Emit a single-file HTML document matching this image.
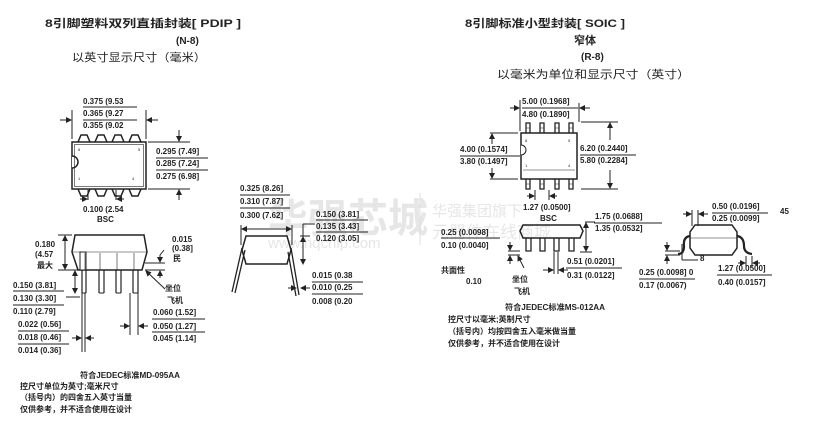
<!DOCTYPE html>
<html><head><meta charset="utf-8"><style>
html,body{margin:0;padding:0;background:#fff;}
svg{display:block}
text{font-family:"Liberation Sans","Noto Sans CJK SC",sans-serif;fill:#222;}
.d{font-size:8px;font-weight:bold;}
.c{font-size:8px;font-weight:bold;}
.t{font-size:11px;font-weight:bold;}
.w{fill:#e6e6e6;font-weight:bold;}
line,path,rect,polyline,polygon{stroke:#222;fill:none;}
</style></head><body>
<svg width="819" height="442" viewBox="0 0 819 442" xmlns="http://www.w3.org/2000/svg">
<defs>
<marker id="a" markerWidth="6" markerHeight="6" refX="5" refY="3" orient="auto"><path d="M0,0 L6,3 L0,6 z" style="fill:#222;stroke:none"/></marker>
</defs>
<!-- watermark -->
<text x="268" y="232" class="w" style="font-size:40px">华强芯城</text>
<text x="268" y="248" class="w" style="font-size:15px;font-weight:normal">www.hqchip.com</text>
<line x1="420" y1="193" x2="420" y2="245" style="stroke:#ddd"/>
<text x="432" y="216" class="w" style="font-size:15px;font-weight:normal">华强集团旗下</text>
<text x="432" y="238" class="w" style="font-size:17px;font-weight:normal">元器件在线商城</text>

<!-- titles -->
<text x="45" y="27" class="t" textLength="196" lengthAdjust="spacingAndGlyphs">8引脚塑料双列直插封装[ PDIP ]</text>
<text x="176" y="44" class="t" style="font-size:10px">(N-8)</text>
<text x="72" y="61" style="font-size:11px" textLength="134" lengthAdjust="spacingAndGlyphs">以英寸显示尺寸（毫米）</text>
<text x="465" y="27" class="t" textLength="160" lengthAdjust="spacingAndGlyphs">8引脚标准小型封装[ SOIC ]</text>
<text x="574" y="44" class="t">窄体</text>
<text x="581" y="60" class="t" style="font-size:10px">(R-8)</text>
<text x="497" y="78" style="font-size:11px" textLength="193" lengthAdjust="spacingAndGlyphs">以毫米为单位和显示尺寸（英寸）</text>

<!-- PDIP top view -->
<g style="stroke-width:1.5">
<rect x="72" y="142" width="74" height="47"/>
<path d="M72,156 a6,6 0 0 1 0,12" style="fill:#fff"/>
<path d="M78,142 l3,-7 h6 l3,7 M95,142 l3,-7 h6 l3,7 M112,142 l3,-7 h6 l3,7 M129,142 l3,-7 h6 l3,7"/>
<path d="M78,189 l3,7 h6 l3,-7 M95,189 l3,7 h6 l3,-7 M112,189 l3,7 h6 l3,-7 M129,189 l3,7 h6 l3,-7"/>
</g>
<rect x="74.5" y="144.5" width="69" height="42" style="stroke-width:0.6"/>
<text x="78" y="151" style="font-size:4px">8</text><text x="138" y="151" style="font-size:4px">5</text>
<text x="78" y="180" style="font-size:4px">1</text><text x="132" y="180" style="font-size:4px">4</text>
<line x1="72" y1="110" x2="72" y2="139"/><line x1="146" y1="110" x2="146" y2="139"/>
<line x1="60" y1="120" x2="71" y2="120" marker-end="url(#a)"/><line x1="158" y1="120" x2="147" y2="120" marker-end="url(#a)"/>
<text x="83" y="104" class="d">0.375 (9.53</text><line x1="83" y1="107" x2="137" y2="107"/>
<text x="83" y="116" class="d">0.365 (9.27</text><line x1="83" y1="120" x2="137" y2="120"/>
<text x="83" y="128" class="d">0.355 (9.02</text>
<line x1="148" y1="142" x2="190" y2="142"/><line x1="148" y1="189" x2="190" y2="189"/>
<line x1="179" y1="130" x2="179" y2="141" marker-end="url(#a)"/><line x1="179" y1="200" x2="179" y2="190" marker-end="url(#a)"/>
<text x="156" y="154" class="d">0.295 (7.49]</text><line x1="156" y1="158" x2="208" y2="158"/>
<text x="156" y="166" class="d">0.285 (7.24]</text><line x1="156" y1="170" x2="208" y2="170"/>
<text x="156" y="179" class="d">0.275 (6.98]</text>
<line x1="88" y1="200" x2="88" y2="190"/><line x1="116" y1="200" x2="116" y2="190"/>
<line x1="80" y1="199" x2="87" y2="199" marker-end="url(#a)"/><line x1="124" y1="199" x2="117" y2="199" marker-end="url(#a)"/>
<text x="83" y="212" class="d">0.100 (2.54</text>
<text x="97" y="222" class="d">BSC</text>

<!-- PDIP side view -->
<path d="M75,235 H144 L147,252 L142,270 H78 L72,252 Z" style="stroke-width:1.5"/>
<line x1="73" y1="252" x2="146" y2="252" style="stroke-width:0.6"/>
<g style="fill:#222;stroke:none">
<rect x="80" y="252" width="6" height="18" style="fill:#fff;stroke:#222"/>
</g>
<path d="M82,270 v23 M86,270 v23 M99,270 v23 M104,270 v23 M116,270 v23 M121,270 v23 M133,270 v23 M138,270 v23" style="stroke-width:1.2"/>
<path d="M82,293 h4 M99,293 h5 M116,293 h5 M133,293 h5"/>
<path d="M85,253 v17 M100,253 v17 M117,253 v17 M134,253 v17" style="stroke-width:0.6"/>
<line x1="82" y1="293" x2="82" y2="352"/><line x1="85" y1="293" x2="85" y2="352"/>
<line x1="130" y1="293" x2="130" y2="335"/><line x1="138" y1="293" x2="138" y2="335"/>
<line x1="58" y1="235" x2="72" y2="235"/><line x1="58" y1="270" x2="78" y2="270"/>
<line x1="65" y1="258" x2="65" y2="236" marker-end="url(#a)"/><line x1="65" y1="247" x2="65" y2="269" marker-end="url(#a)"/>
<text x="35" y="247" class="d">0.180</text><text x="35" y="257" class="d">(4.57</text><text x="37" y="268" class="c">最大</text>
<text x="172" y="242" class="d">0.015</text><text x="172" y="251" class="d">(0.38]</text><text x="173" y="261" class="c">民</text>
<line x1="145" y1="263" x2="165" y2="263"/><line x1="145" y1="270" x2="165" y2="270"/>
<line x1="160" y1="255" x2="160" y2="262" marker-end="url(#a)"/><line x1="160" y1="278" x2="160" y2="271" marker-end="url(#a)"/>
<line x1="160" y1="255" x2="164" y2="250"/>
<line x1="75" y1="272" x2="75" y2="292"/><line x1="75" y1="282" x2="75" y2="271" marker-end="url(#a)"/><line x1="75" y1="282" x2="75" y2="293" marker-end="url(#a)"/>
<text x="13" y="288" class="d">0.150 (3.81]</text><line x1="13" y1="291" x2="64" y2="291"/>
<text x="13" y="301" class="d">0.130 (3.30]</text><line x1="13" y1="305" x2="64" y2="305"/><line x1="66" y1="297" x2="80" y2="297"/>
<text x="13" y="314" class="d">0.110 (2.79]</text>
<text x="18" y="327" class="d">0.022 (0.56]</text><line x1="18" y1="331" x2="69" y2="331"/>
<text x="18" y="340" class="d">0.018 (0.46]</text><line x1="18" y1="344" x2="69" y2="344"/>
<text x="18" y="353" class="d">0.014 (0.36]</text>
<line x1="72" y1="338" x2="81" y2="338" marker-end="url(#a)"/><line x1="94" y1="338" x2="86" y2="338" marker-end="url(#a)"/>
<line x1="165" y1="289" x2="146" y2="271" marker-end="url(#a)"/>
<text x="165" y="291" class="c">坐位</text><text x="167" y="303" class="c">飞机</text>
<line x1="120" y1="326" x2="129" y2="326" marker-end="url(#a)"/><line x1="148" y1="326" x2="139" y2="326" marker-end="url(#a)"/>
<text x="153" y="315" class="d">0.060 (1.52]</text><line x1="152" y1="319" x2="205" y2="319"/>
<text x="153" y="329" class="d">0.050 (1.27]</text><line x1="152" y1="332" x2="205" y2="332"/>
<text x="153" y="341" class="d">0.045 (1.14]</text>
<text x="80" y="378" class="c" textLength="100" lengthAdjust="spacingAndGlyphs">符合JEDEC标准MD-095AA</text>
<text x="20" y="389" class="c">控尺寸单位为英寸;毫米尺寸</text>
<text x="20" y="400" class="c">（括号内）的四舍五入英寸当量</text>
<text x="20" y="412" class="c">仅供参考，并不适合使用在设计</text>

<!-- PDIP end view -->
<path d="M246,236 H287 L291,250 L287,264 H246 L242,250 Z" style="stroke-width:1.5"/>
<path d="M242,248 L232,292 M245,250 L235,293 M291,248 L299,295 M288,252 L296,296" style="stroke-width:1.3"/>
<line x1="241" y1="225" x2="241" y2="245"/><line x1="292" y1="225" x2="292" y2="245"/>
<line x1="266" y1="229" x2="242" y2="229" marker-end="url(#a)"/><line x1="266" y1="229" x2="291" y2="229" marker-end="url(#a)"/>
<text x="240" y="191" class="d">0.325 (8.26]</text><line x1="240" y1="195" x2="290" y2="195"/>
<text x="240" y="204" class="d">0.310 (7.87]</text><line x1="240" y1="208" x2="290" y2="208"/>
<text x="240" y="218" class="d">0.300 (7.62]</text>
<line x1="300" y1="236" x2="310" y2="236"/><line x1="303" y1="224" x2="315" y2="224"/><line x1="303" y1="224" x2="303" y2="264"/>
<line x1="303" y1="250" x2="303" y2="237" marker-end="url(#a)"/><line x1="303" y1="250" x2="303" y2="264" marker-end="url(#a)"/>
<text x="316" y="217" class="d">0.150 (3.81]</text><line x1="316" y1="220" x2="368" y2="220"/>
<text x="316" y="229" class="d">0.135 (3.43]</text><line x1="316" y1="232" x2="368" y2="232"/>
<text x="316" y="241" class="d">0.120 (3.05]</text>
<line x1="288" y1="288" x2="296" y2="288" marker-end="url(#a)"/><line x1="310" y1="288" x2="301" y2="288" marker-end="url(#a)"/>
<text x="312" y="278" class="d">0.015 (0.38</text><line x1="312" y1="282" x2="363" y2="282"/>
<text x="312" y="290" class="d">0.010 (0.25</text><line x1="312" y1="294" x2="363" y2="294"/>
<text x="312" y="304" class="d">0.008 (0.20</text>

<!-- SOIC top view -->
<rect x="521" y="133" width="56" height="46" style="stroke-width:1.5"/>
<path d="M521,145 a5,5 0 0 1 0,10" style="fill:#fff"/>
<line x1="523" y1="170" x2="575" y2="170" style="stroke-width:0.6"/>
<text x="525" y="142" style="font-size:4px">8</text><text x="568" y="142" style="font-size:4px">5</text>
<text x="525" y="167" style="font-size:4px">1</text><text x="568" y="167" style="font-size:4px">4</text>
<path d="M526,133 v-10 h4 v10 M540,133 v-10 h4 v10 M555,133 v-10 h4 v10 M569,133 v-10 h4 v10" style="stroke-width:1.3"/>
<path d="M526,179 v10 h4 v-10 M540,179 v10 h4 v-10 M555,179 v10 h4 v-10 M569,179 v10 h4 v-10" style="stroke-width:1.3"/>
<path d="M526,128 h4 M540,128 h4 M555,128 h4 M569,128 h4 M526,184 h4 M540,184 h4 M555,184 h4 M569,184 h4" style="stroke-width:0.6"/>
<line x1="520" y1="100" x2="520" y2="131"/><line x1="579" y1="103" x2="579" y2="122"/>
<line x1="510" y1="108" x2="519" y2="108" marker-end="url(#a)"/><line x1="590" y1="108" x2="580" y2="108" marker-end="url(#a)"/>
<text x="522" y="104" class="d">5.00 (0.1968]</text><line x1="522" y1="108" x2="578" y2="108"/>
<text x="522" y="117" class="d">4.80 (0.1890]</text>
<line x1="490" y1="133" x2="518" y2="133"/><line x1="490" y1="179" x2="518" y2="179"/>
<line x1="492" y1="144" x2="492" y2="134" marker-end="url(#a)"/><line x1="492" y1="168" x2="492" y2="178" marker-end="url(#a)"/>
<text x="460" y="152" class="d">4.00 (0.1574]</text><line x1="460" y1="156" x2="520" y2="156"/>
<text x="460" y="164" class="d">3.80 (0.1497]</text>
<line x1="581" y1="122" x2="618" y2="122"/><line x1="581" y1="189" x2="618" y2="189"/>
<line x1="610" y1="140" x2="610" y2="123" marker-end="url(#a)"/><line x1="610" y1="170" x2="610" y2="188" marker-end="url(#a)"/>
<text x="580" y="151" class="d">6.20 (0.2440]</text><line x1="580" y1="155" x2="636" y2="155"/>
<text x="580" y="163" class="d">5.80 (0.2284]</text>
<line x1="535" y1="190" x2="535" y2="200"/><line x1="549" y1="190" x2="549" y2="200"/>
<line x1="527" y1="196" x2="534" y2="196" marker-end="url(#a)"/><line x1="557" y1="196" x2="550" y2="196" marker-end="url(#a)"/>
<text x="523" y="210" class="d">1.27 (0.0500]</text>
<text x="540" y="221" class="d">BSC</text>

<!-- SOIC side view -->
<path d="M523,225 H580 L583,231 L580,238 H523 L520,231 Z" style="stroke-width:1.5"/>
<path d="M526,238 v13 h5 v-13 M540,238 v13 h5 v-13 M554,238 v13 h5 v-13 M569,238 v13 h5 v-13" style="stroke-width:1.3"/>
<line x1="585" y1="222" x2="595" y2="222"/><line x1="580" y1="252" x2="592" y2="252"/>
<line x1="586" y1="236" x2="586" y2="223" marker-end="url(#a)"/><line x1="586" y1="236" x2="586" y2="251" marker-end="url(#a)"/>
<text x="595" y="219" class="d">1.75 (0.0688]</text><line x1="594" y1="223" x2="662" y2="223"/>
<text x="595" y="231" class="d">1.35 (0.0532]</text>
<text x="441" y="235" class="d">0.25 (0.0098]</text><line x1="441" y1="238" x2="500" y2="238"/>
<text x="441" y="248" class="d">0.10 (0.0040]</text>
<line x1="508" y1="251" x2="520" y2="251"/><line x1="508" y1="255" x2="520" y2="255"/>
<line x1="510" y1="242" x2="510" y2="250" marker-end="url(#a)"/><line x1="510" y1="264" x2="510" y2="256" marker-end="url(#a)"/>
<line x1="524" y1="268" x2="518" y2="256" marker-end="url(#a)"/>
<text x="441" y="273" class="c">共面性</text><text x="466" y="284" class="d">0.10</text>
<text x="512" y="282" class="c">坐位</text><text x="514" y="294" class="c">飞机</text>
<line x1="554" y1="252" x2="554" y2="274"/><line x1="558" y1="252" x2="558" y2="274"/>
<line x1="543" y1="270" x2="553" y2="270" marker-end="url(#a)"/><line x1="568" y1="270" x2="559" y2="270" marker-end="url(#a)"/>
<text x="567" y="264" class="d">0.51 (0.0201]</text><line x1="566" y1="268" x2="622" y2="268"/>
<text x="567" y="278" class="d">0.31 (0.0122]</text>

<!-- SOIC end view -->
<path d="M695,225 H732 L737,232 V248 L732,255 H695 L690,248 V232 Z" style="stroke-width:1.5"/>
<line x1="690" y1="238" x2="737" y2="238" style="stroke-width:0.6"/>
<path d="M690,236 Q683,237 684,246 Q684,254 678,254 M737,236 Q744,237 744,246 Q744,253 752,254" style="stroke-width:2.2"/>
<line x1="692" y1="210" x2="692" y2="226"/><line x1="698" y1="210" x2="698" y2="226"/>
<line x1="683" y1="214" x2="691" y2="214" marker-end="url(#a)"/><line x1="708" y1="214" x2="699" y2="214" marker-end="url(#a)"/>
<text x="712" y="209" class="d">0.50 (0.0196]</text><line x1="712" y1="213" x2="768" y2="213"/>
<text x="712" y="221" class="d">0.25 (0.0099]</text>
<text x="780" y="214" class="d">45</text>
<line x1="682" y1="244" x2="682" y2="260"/><line x1="682" y1="260" x2="698" y2="260"/>
<text x="700" y="261" class="d">8</text>
<line x1="665" y1="251" x2="680" y2="251"/><line x1="665" y1="255" x2="680" y2="255"/>
<line x1="667" y1="242" x2="667" y2="250" marker-end="url(#a)"/><line x1="667" y1="264" x2="667" y2="256" marker-end="url(#a)"/>
<text x="639" y="275" class="d">0.25 (0.0098] 0</text><line x1="639" y1="279" x2="695" y2="279"/>
<text x="639" y="288" class="d">0.17 (0.0067)</text>
<line x1="746" y1="256" x2="746" y2="267"/><line x1="752" y1="256" x2="752" y2="267"/>
<line x1="738" y1="263" x2="745" y2="263" marker-end="url(#a)"/><line x1="760" y1="263" x2="753" y2="263" marker-end="url(#a)"/>
<text x="718" y="271" class="d">1.27 (0.0500]</text><line x1="717" y1="275" x2="772" y2="275"/>
<text x="718" y="285" class="d">0.40 (0.0157]</text>
<text x="505" y="310" class="c" textLength="100" lengthAdjust="spacingAndGlyphs">符合JEDEC标准MS-012AA</text>
<text x="448" y="322" class="c">控尺寸以毫米;英制尺寸</text>
<text x="448" y="334" class="c">（括号内）均按四舍五入毫米做当量</text>
<text x="448" y="346" class="c">仅供参考，并不适合使用在设计</text>
</svg>
</body></html>
